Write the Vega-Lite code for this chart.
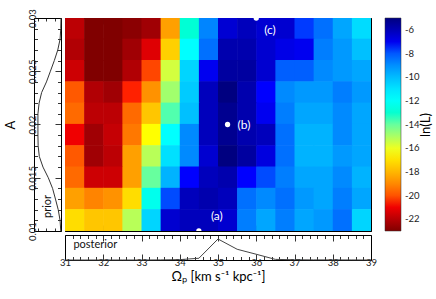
{
"$schema": "https://vega.github.io/schema/vega-lite/v6.json",
"padding": {"left": 3, "top": 8, "right": 0, "bottom": 0},
"background": "white",
"config": {
  "font": "Lato",
  "view": {"stroke": "black", "strokeWidth": 1},
  "axis": {"domain": false, "grid": false, "tickColor": "#000", "tickWidth": 0.8, "labelColor": "#222", "labelFontSize": 9.5, "titleFontWeight": "normal", "titleColor": "#000", "labelFont": "Lato", "titleFont": "Lato"}
},
"bounds": "flush",
"columns": 2,
"spacing": {"row": 4, "column": 4},
"resolve": {"scale": {"x": "independent", "y": "independent"}},
"concat": [
{
  "width": 27, "height": 213,
  "layer": [
    {
      "data": {"values": [
        {"A":0.010,"p":0.01},{"A":0.011,"p":0.04},{"A":0.012,"p":0.12},{"A":0.013,"p":0.24},{"A":0.014,"p":0.365},
        {"A":0.015,"p":0.55},{"A":0.016,"p":0.78},{"A":0.017,"p":0.94},{"A":0.018,"p":0.99},{"A":0.019,"p":1.0},
        {"A":0.020,"p":1.0},{"A":0.021,"p":1.0},{"A":0.022,"p":0.95},{"A":0.023,"p":0.84},{"A":0.024,"p":0.63},
        {"A":0.025,"p":0.46},{"A":0.026,"p":0.29},{"A":0.027,"p":0.14},{"A":0.028,"p":0.04},{"A":0.029,"p":0.01},{"A":0.030,"p":0.0}
      ]},
      "mark": {"type": "line", "color": "#333", "strokeWidth": 1},
      "encoding": {
        "y": {"field": "A", "type": "quantitative", "scale": {"domain": [0.01, 0.03], "nice": false, "zero": false},
              "axis": {"orient": "left", "values": [0.01,0.011,0.012,0.013,0.014,0.015,0.016,0.017,0.018,0.019,0.02,0.021,0.022,0.023,0.024,0.025,0.026,0.027,0.028,0.029,0.03],
                       "tickSize": {"condition": {"test": "abs(datum.value*200-round(datum.value*200))<0.01", "value": -6}, "value": -3.5},
                       "labelExpr": "abs(datum.value*200-round(datum.value*200))<0.01 ? format(datum.value, '.3~f') : ''",
                       "labelAngle": -90, "labelPadding": 3, "title": "A", "titleFontSize": 13, "titlePadding": 10}},
        "x": {"field": "p", "type": "quantitative", "scale": {"domain": [0, 1.17], "reverse": true, "nice": false, "zero": false},
              "axis": {"orient": "bottom", "values": [0.28, 0.64, 1.0], "tickSize": -3, "labels": false, "title": null}},
        "order": {"field": "A", "type": "quantitative"}
      }
    },
    {
      "data": {"values": [{"t": "prior", "A": 0.0123, "p": 0.585}]},
      "mark": {"type": "text", "angle": 270, "fontSize": 11, "align": "center", "baseline": "middle", "color": "#111"},
      "encoding": {
        "y": {"field": "A", "type": "quantitative", "scale": {"domain": [0.01, 0.03], "nice": false, "zero": false},
              "axis": {"orient": "right", "values": [0.01,0.011,0.012,0.013,0.014,0.015,0.016,0.017,0.018,0.019,0.02,0.021,0.022,0.023,0.024,0.025,0.026,0.027,0.028,0.029,0.03],
                       "tickSize": {"condition": {"test": "abs(datum.value*200-round(datum.value*200))<0.01", "value": -6}, "value": -3.5},
                       "labels": false, "title": null}},
        "x": {"field": "p", "type": "quantitative", "scale": {"domain": [0, 1.17], "reverse": true, "nice": false, "zero": false},
              "axis": {"orient": "top", "values": [0.28, 0.64, 1.0], "tickSize": -3, "labels": false, "title": null}},
        "text": {"field": "t"}
      }
    }
  ],
  "resolve": {"axis": {"x": "independent", "y": "independent"}}
},
{
  "width": 306, "height": 213,
  "layer": [
    {
      "data": {"values": [
{"o":31,"p":31.5,"a":0.028,"b":0.03,"v":-21.9},{"o":31.5,"p":32,"a":0.028,"b":0.03,"v":-23},{"o":32,"p":32.5,"a":0.028,"b":0.03,"v":-23},{"o":32.5,"p":33,"a":0.028,"b":0.03,"v":-22.8},{"o":33,"p":33.5,"a":0.028,"b":0.03,"v":-22.4},{"o":33.5,"p":34,"a":0.028,"b":0.03,"v":-18.5},{"o":34,"p":34.5,"a":0.028,"b":0.03,"v":-12.9},{"o":34.5,"p":35,"a":0.028,"b":0.03,"v":-8.8},{"o":35,"p":35.5,"a":0.028,"b":0.03,"v":-6.5},{"o":35.5,"p":36,"a":0.028,"b":0.03,"v":-6.1},{"o":36,"p":36.5,"a":0.028,"b":0.03,"v":-6.5},{"o":36.5,"p":37,"a":0.028,"b":0.03,"v":-6.45},{"o":37,"p":37.5,"a":0.028,"b":0.03,"v":-7.6},{"o":37.5,"p":38,"a":0.028,"b":0.03,"v":-8.4},{"o":38,"p":38.5,"a":0.028,"b":0.03,"v":-9.5},{"o":38.5,"p":39,"a":0.028,"b":0.03,"v":-10.8},
{"o":31,"p":31.5,"a":0.026,"b":0.028,"v":-22.1},{"o":31.5,"p":32,"a":0.026,"b":0.028,"v":-23},{"o":32,"p":32.5,"a":0.026,"b":0.028,"v":-23},{"o":32.5,"p":33,"a":0.026,"b":0.028,"v":-22.4},{"o":33,"p":33.5,"a":0.026,"b":0.028,"v":-21.3},{"o":33.5,"p":34,"a":0.026,"b":0.028,"v":-17.4},{"o":34,"p":34.5,"a":0.026,"b":0.028,"v":-11.75},{"o":34.5,"p":35,"a":0.026,"b":0.028,"v":-8.4},{"o":35,"p":35.5,"a":0.026,"b":0.028,"v":-5.85},{"o":35.5,"p":36,"a":0.026,"b":0.028,"v":-5.85},{"o":36,"p":36.5,"a":0.026,"b":0.028,"v":-6.45},{"o":36.5,"p":37,"a":0.026,"b":0.028,"v":-6.85},{"o":37,"p":37.5,"a":0.026,"b":0.028,"v":-7.0},{"o":37.5,"p":38,"a":0.026,"b":0.028,"v":-8.65},{"o":38,"p":38.5,"a":0.026,"b":0.028,"v":-9.2},{"o":38.5,"p":39,"a":0.026,"b":0.028,"v":-10.1},
{"o":31,"p":31.5,"a":0.024,"b":0.026,"v":-21.6},{"o":31.5,"p":32,"a":0.024,"b":0.026,"v":-23},{"o":32,"p":32.5,"a":0.024,"b":0.026,"v":-23},{"o":32.5,"p":33,"a":0.024,"b":0.026,"v":-22.1},{"o":33,"p":33.5,"a":0.024,"b":0.026,"v":-20.2},{"o":33.5,"p":34,"a":0.024,"b":0.026,"v":-15.6},{"o":34,"p":34.5,"a":0.024,"b":0.026,"v":-10.6},{"o":34.5,"p":35,"a":0.024,"b":0.026,"v":-7.0},{"o":35,"p":35.5,"a":0.024,"b":0.026,"v":-5.6},{"o":35.5,"p":36,"a":0.024,"b":0.026,"v":-5.6},{"o":36,"p":36.5,"a":0.024,"b":0.026,"v":-6.45},{"o":36.5,"p":37,"a":0.024,"b":0.026,"v":-8.1},{"o":37,"p":37.5,"a":0.024,"b":0.026,"v":-8.1},{"o":37.5,"p":38,"a":0.024,"b":0.026,"v":-8.9},{"o":38,"p":38.5,"a":0.024,"b":0.026,"v":-9.2},{"o":38.5,"p":39,"a":0.024,"b":0.026,"v":-9.5},
{"o":31,"p":31.5,"a":0.022,"b":0.024,"v":-19.9},{"o":31.5,"p":32,"a":0.022,"b":0.024,"v":-22.1},{"o":32,"p":32.5,"a":0.022,"b":0.024,"v":-22.4},{"o":32.5,"p":33,"a":0.022,"b":0.024,"v":-20.6},{"o":33,"p":33.5,"a":0.022,"b":0.024,"v":-18.8},{"o":33.5,"p":34,"a":0.022,"b":0.024,"v":-14.85},{"o":34,"p":34.5,"a":0.022,"b":0.024,"v":-10.35},{"o":34.5,"p":35,"a":0.022,"b":0.024,"v":-6.1},{"o":35,"p":35.5,"a":0.022,"b":0.024,"v":-5.0},{"o":35.5,"p":36,"a":0.022,"b":0.024,"v":-5.85},{"o":36,"p":36.5,"a":0.022,"b":0.024,"v":-7.25},{"o":36.5,"p":37,"a":0.022,"b":0.024,"v":-8.9},{"o":37,"p":37.5,"a":0.022,"b":0.024,"v":-9.2},{"o":37.5,"p":38,"a":0.022,"b":0.024,"v":-9.2},{"o":38,"p":38.5,"a":0.022,"b":0.024,"v":-8.65},{"o":38.5,"p":39,"a":0.022,"b":0.024,"v":-9.2},
{"o":31,"p":31.5,"a":0.02,"b":0.022,"v":-19.6},{"o":31.5,"p":32,"a":0.02,"b":0.022,"v":-21.9},{"o":32,"p":32.5,"a":0.02,"b":0.022,"v":-21.9},{"o":32.5,"p":33,"a":0.02,"b":0.022,"v":-19.6},{"o":33,"p":33.5,"a":0.02,"b":0.022,"v":-17.65},{"o":33.5,"p":34,"a":0.02,"b":0.022,"v":-13.7},{"o":34,"p":34.5,"a":0.02,"b":0.022,"v":-10.1},{"o":34.5,"p":35,"a":0.02,"b":0.022,"v":-6.1},{"o":35,"p":35.5,"a":0.02,"b":0.022,"v":-5.3},{"o":35.5,"p":36,"a":0.02,"b":0.022,"v":-5.85},{"o":36,"p":36.5,"a":0.02,"b":0.022,"v":-7.0},{"o":36.5,"p":37,"a":0.02,"b":0.022,"v":-8.65},{"o":37,"p":37.5,"a":0.02,"b":0.022,"v":-9.5},{"o":37.5,"p":38,"a":0.02,"b":0.022,"v":-9.5},{"o":38,"p":38.5,"a":0.02,"b":0.022,"v":-8.9},{"o":38.5,"p":39,"a":0.02,"b":0.022,"v":-9.5},
{"o":31,"p":31.5,"a":0.018,"b":0.02,"v":-21.0},{"o":31.5,"p":32,"a":0.018,"b":0.02,"v":-22.4},{"o":32,"p":32.5,"a":0.018,"b":0.02,"v":-21.75},{"o":32.5,"p":33,"a":0.018,"b":0.02,"v":-19.35},{"o":33,"p":33.5,"a":0.018,"b":0.02,"v":-16.25},{"o":33.5,"p":34,"a":0.018,"b":0.02,"v":-11.75},{"o":34,"p":34.5,"a":0.018,"b":0.02,"v":-8.9},{"o":34.5,"p":35,"a":0.018,"b":0.02,"v":-6.1},{"o":35,"p":35.5,"a":0.018,"b":0.02,"v":-5.3},{"o":35.5,"p":36,"a":0.018,"b":0.02,"v":-5.85},{"o":36,"p":36.5,"a":0.018,"b":0.02,"v":-6.1},{"o":36.5,"p":37,"a":0.018,"b":0.02,"v":-8.4},{"o":37,"p":37.5,"a":0.018,"b":0.02,"v":-9.8},{"o":37.5,"p":38,"a":0.018,"b":0.02,"v":-9.8},{"o":38,"p":38.5,"a":0.018,"b":0.02,"v":-8.9},{"o":38.5,"p":39,"a":0.018,"b":0.02,"v":-9.5},
{"o":31,"p":31.5,"a":0.016,"b":0.018,"v":-19.9},{"o":31.5,"p":32,"a":0.016,"b":0.018,"v":-22.4},{"o":32,"p":32.5,"a":0.016,"b":0.018,"v":-21.9},{"o":32.5,"p":33,"a":0.016,"b":0.018,"v":-18.5},{"o":33,"p":33.5,"a":0.016,"b":0.018,"v":-15.2},{"o":33.5,"p":34,"a":0.016,"b":0.018,"v":-10.9},{"o":34,"p":34.5,"a":0.016,"b":0.018,"v":-8.9},{"o":34.5,"p":35,"a":0.016,"b":0.018,"v":-6.45},{"o":35,"p":35.5,"a":0.016,"b":0.018,"v":-5.0},{"o":35.5,"p":36,"a":0.016,"b":0.018,"v":-5.6},{"o":36,"p":36.5,"a":0.016,"b":0.018,"v":-6.7},{"o":36.5,"p":37,"a":0.016,"b":0.018,"v":-8.4},{"o":37,"p":37.5,"a":0.016,"b":0.018,"v":-9.8},{"o":37.5,"p":38,"a":0.016,"b":0.018,"v":-9.8},{"o":38,"p":38.5,"a":0.016,"b":0.018,"v":-9.2},{"o":38.5,"p":39,"a":0.016,"b":0.018,"v":-9.5},
{"o":31,"p":31.5,"a":0.014,"b":0.016,"v":-19.6},{"o":31.5,"p":32,"a":0.014,"b":0.016,"v":-21.6},{"o":32,"p":32.5,"a":0.014,"b":0.016,"v":-21.6},{"o":32.5,"p":33,"a":0.014,"b":0.016,"v":-18.5},{"o":33,"p":33.5,"a":0.014,"b":0.016,"v":-14.0},{"o":33.5,"p":34,"a":0.014,"b":0.016,"v":-9.8},{"o":34,"p":34.5,"a":0.014,"b":0.016,"v":-7.25},{"o":34.5,"p":35,"a":0.014,"b":0.016,"v":-6.1},{"o":35,"p":35.5,"a":0.014,"b":0.016,"v":-5.85},{"o":35.5,"p":36,"a":0.014,"b":0.016,"v":-7.25},{"o":36,"p":36.5,"a":0.014,"b":0.016,"v":-7.8},{"o":36.5,"p":37,"a":0.014,"b":0.016,"v":-8.65},{"o":37,"p":37.5,"a":0.014,"b":0.016,"v":-9.5},{"o":37.5,"p":38,"a":0.014,"b":0.016,"v":-9.5},{"o":38,"p":38.5,"a":0.014,"b":0.016,"v":-8.9},{"o":38.5,"p":39,"a":0.014,"b":0.016,"v":-9.8},
{"o":31,"p":31.5,"a":0.012,"b":0.014,"v":-18.5},{"o":31.5,"p":32,"a":0.012,"b":0.014,"v":-19.1},{"o":32,"p":32.5,"a":0.012,"b":0.014,"v":-18.8},{"o":32.5,"p":33,"a":0.012,"b":0.014,"v":-17.1},{"o":33,"p":33.5,"a":0.012,"b":0.014,"v":-12.3},{"o":33.5,"p":34,"a":0.012,"b":0.014,"v":-7.8},{"o":34,"p":34.5,"a":0.012,"b":0.014,"v":-6.1},{"o":34.5,"p":35,"a":0.012,"b":0.014,"v":-5.85},{"o":35,"p":35.5,"a":0.012,"b":0.014,"v":-6.1},{"o":35.5,"p":36,"a":0.012,"b":0.014,"v":-8.4},{"o":36,"p":36.5,"a":0.012,"b":0.014,"v":-8.9},{"o":36.5,"p":37,"a":0.012,"b":0.014,"v":-8.4},{"o":37,"p":37.5,"a":0.012,"b":0.014,"v":-9.2},{"o":37.5,"p":38,"a":0.012,"b":0.014,"v":-9.5},{"o":38,"p":38.5,"a":0.012,"b":0.014,"v":-8.65},{"o":38.5,"p":39,"a":0.012,"b":0.014,"v":-9.5},
{"o":31,"p":31.5,"a":0.01,"b":0.012,"v":-17.1},{"o":31.5,"p":32,"a":0.01,"b":0.012,"v":-17.65},{"o":32,"p":32.5,"a":0.01,"b":0.012,"v":-17.65},{"o":32.5,"p":33,"a":0.01,"b":0.012,"v":-15.2},{"o":33,"p":33.5,"a":0.01,"b":0.012,"v":-10.6},{"o":33.5,"p":34,"a":0.01,"b":0.012,"v":-6.45},{"o":34,"p":34.5,"a":0.01,"b":0.012,"v":-6.1},{"o":34.5,"p":35,"a":0.01,"b":0.012,"v":-6.1},{"o":35,"p":35.5,"a":0.01,"b":0.012,"v":-6.45},{"o":35.5,"p":36,"a":0.01,"b":0.012,"v":-8.65},{"o":36,"p":36.5,"a":0.01,"b":0.012,"v":-9.5},{"o":36.5,"p":37,"a":0.01,"b":0.012,"v":-8.65},{"o":37,"p":37.5,"a":0.01,"b":0.012,"v":-9.5},{"o":37.5,"p":38,"a":0.01,"b":0.012,"v":-9.2},{"o":38,"p":38.5,"a":0.01,"b":0.012,"v":-8.4},{"o":38.5,"p":39,"a":0.01,"b":0.012,"v":-10.6}
      ]},
      "mark": {"type": "rect", "x2Offset": 0.6, "y2Offset": -0.6, "clip": true},
      "encoding": {
        "x": {"field": "o", "type": "quantitative", "scale": {"domain": [31, 39], "nice": false, "zero": false},
              "axis": {"orient": "bottom", "values": [31,31.2,31.4,31.6,31.8,32,32.2,32.4,32.6,32.8,33,33.2,33.4,33.6,33.8,34,34.2,34.4,34.6,34.8,35,35.2,35.4,35.6,35.8,36,36.2,36.4,36.6,36.8,37,37.2,37.4,37.6,37.8,38,38.2,38.4,38.6,38.8,39],
                       "tickSize": {"condition": {"test": "abs(datum.value-round(datum.value))<0.01", "value": -6}, "value": -3.5},
                       "labels": false, "title": null}},
        "x2": {"field": "p"},
        "y": {"field": "a", "type": "quantitative", "scale": {"domain": [0.01, 0.03], "nice": false, "zero": false},
              "axis": {"orient": "left", "values": [0.01,0.011,0.012,0.013,0.014,0.015,0.016,0.017,0.018,0.019,0.02,0.021,0.022,0.023,0.024,0.025,0.026,0.027,0.028,0.029,0.03],
                       "tickSize": {"condition": {"test": "abs(datum.value*200-round(datum.value*200))<0.01", "value": -6}, "value": -3.5},
                       "labels": false, "title": null}},
        "y2": {"field": "b"},
        "color": {"field": "v", "type": "quantitative",
                  "scale": {"domain": [-23, -20.75, -16.25, -11.75, -7.25, -5], "range": ["#800000", "#ff0000", "#ffff00", "#00ffff", "#0000ff", "#000080"]},
                  "legend": {"orient": "right", "offset": 7, "direction": "vertical", "gradientLength": 213, "gradientThickness": 16,
                             "values": [-22, -20, -18, -16, -14, -12, -10, -8, -6],
                             "labelExpr": "'-' + abs(datum.value)", "labelFontSize": 9.5, "labelColor": "#222", "labelOffset": 4,
                             "title": "ln(L)", "titleOrient": "right", "titleFontSize": 13, "titleFontWeight": "normal", "titleColor": "#000", "titlePadding": 13, "titleAnchor": "middle",
                             "padding": 0, "gradientStrokeColor": "#333", "gradientStrokeWidth": 0.5,
                             "encode": {"title": {"update": {"angle": {"value": -90}}}}}}
      }
    },
    {
      "data": {"values": [{"k": "(a)", "x": 34.5, "y": 0.01}, {"k": "(b)", "x": 35.25, "y": 0.02}, {"k": "(c)", "x": 36.0, "y": 0.03}]},
      "mark": {"type": "point", "filled": true, "color": "white", "opacity": 1, "size": 28, "clip": true},
      "encoding": {
        "x": {"field": "x", "type": "quantitative", "scale": {"domain": [31, 39], "nice": false, "zero": false},
              "axis": {"orient": "top", "values": [31,31.2,31.4,31.6,31.8,32,32.2,32.4,32.6,32.8,33,33.2,33.4,33.6,33.8,34,34.2,34.4,34.6,34.8,35,35.2,35.4,35.6,35.8,36,36.2,36.4,36.6,36.8,37,37.2,37.4,37.6,37.8,38,38.2,38.4,38.6,38.8,39],
                       "tickSize": {"condition": {"test": "abs(datum.value-round(datum.value))<0.01", "value": -6}, "value": -3.5},
                       "labels": false, "title": null}},
        "y": {"field": "y", "type": "quantitative", "scale": {"domain": [0.01, 0.03], "nice": false, "zero": false},
              "axis": {"orient": "right", "values": [0.01,0.011,0.012,0.013,0.014,0.015,0.016,0.017,0.018,0.019,0.02,0.021,0.022,0.023,0.024,0.025,0.026,0.027,0.028,0.029,0.03],
                       "tickSize": {"condition": {"test": "abs(datum.value*200-round(datum.value*200))<0.01", "value": -6}, "value": -3.5},
                       "labels": false, "title": null}}
      }
    },
    {
      "data": {"values": [{"k": "(a)", "x": 34.5, "y": 0.01}, {"k": "(b)", "x": 35.25, "y": 0.02}, {"k": "(c)", "x": 36.0, "y": 0.03}]},
      "transform": [{"filter": "datum.k == '(a)'"}],
      "mark": {"type": "text", "align": "left", "baseline": "middle", "color": "white", "fontSize": 12, "dx": 12, "dy": -15},
      "encoding": {
        "x": {"field": "x", "type": "quantitative", "axis": null},
        "y": {"field": "y", "type": "quantitative", "axis": null},
        "text": {"field": "k"}
      }
    },
    {
      "data": {"values": [{"k": "(a)", "x": 34.5, "y": 0.01}, {"k": "(b)", "x": 35.25, "y": 0.02}, {"k": "(c)", "x": 36.0, "y": 0.03}]},
      "transform": [{"filter": "datum.k == '(b)'"}],
      "mark": {"type": "text", "align": "left", "baseline": "middle", "color": "white", "fontSize": 12, "dx": 10, "dy": 0},
      "encoding": {
        "x": {"field": "x", "type": "quantitative", "axis": null},
        "y": {"field": "y", "type": "quantitative", "axis": null},
        "text": {"field": "k"}
      }
    },
    {
      "data": {"values": [{"k": "(a)", "x": 34.5, "y": 0.01}, {"k": "(b)", "x": 35.25, "y": 0.02}, {"k": "(c)", "x": 36.0, "y": 0.03}]},
      "transform": [{"filter": "datum.k == '(c)'"}],
      "mark": {"type": "text", "align": "left", "baseline": "middle", "color": "white", "fontSize": 12, "dx": 8, "dy": 12},
      "encoding": {
        "x": {"field": "x", "type": "quantitative", "axis": null},
        "y": {"field": "y", "type": "quantitative", "axis": null},
        "text": {"field": "k"}
      }
    }
  ],
  "resolve": {"axis": {"x": "independent", "y": "independent"}}
},
{
  "width": 27, "height": 25,
  "view": {"stroke": null},
  "data": {"values": [{}]},
  "mark": {"type": "point", "opacity": 0},
  "encoding": {}
},
{
  "width": 306, "height": 25,
  "layer": [
    {
      "data": {"values": [
        {"x":31,"p":0},{"x":31.5,"p":0},{"x":32,"p":0},{"x":32.5,"p":0},{"x":33,"p":0},{"x":33.5,"p":0.004},
        {"x":34,"p":0.015},{"x":34.5,"p":0.07},{"x":35,"p":0.84},{"x":35.5,"p":0.43},{"x":36,"p":0.23},{"x":36.5,"p":0.025},
        {"x":37,"p":0.01},{"x":37.5,"p":0.005},{"x":38,"p":0.004},{"x":38.5,"p":0.002},{"x":39,"p":0}
      ]},
      "mark": {"type": "line", "color": "#444", "strokeWidth": 1},
      "encoding": {
        "x": {"field": "x", "type": "quantitative", "scale": {"domain": [31, 39], "nice": false, "zero": false},
              "axis": {"orient": "bottom", "values": [31,31.2,31.4,31.6,31.8,32,32.2,32.4,32.6,32.8,33,33.2,33.4,33.6,33.8,34,34.2,34.4,34.6,34.8,35,35.2,35.4,35.6,35.8,36,36.2,36.4,36.6,36.8,37,37.2,37.4,37.6,37.8,38,38.2,38.4,38.6,38.8,39],
                       "tickSize": {"condition": {"test": "abs(datum.value-round(datum.value))<0.01", "value": -6}, "value": -3.5},
                       "labelExpr": "abs(datum.value-round(datum.value))<0.01 ? format(datum.value, 'd') : ''",
                       "labelPadding": 3, "labelFlush": false,
                       "title": "Ωₚ [km s⁻¹ kpc⁻¹]", "titleFontSize": 13, "titlePadding": 4}},
        "y": {"field": "p", "type": "quantitative", "scale": {"domain": [0, 1], "nice": false, "zero": false}, "axis": null}
      }
    },
    {
      "data": {"values": [{"t": "posterior", "x": 31.22, "p": 0.6}]},
      "mark": {"type": "text", "align": "left", "baseline": "middle", "fontSize": 11, "color": "#111"},
      "encoding": {
        "x": {"field": "x", "type": "quantitative", "scale": {"domain": [31, 39], "nice": false, "zero": false},
              "axis": {"orient": "top", "values": [31,31.2,31.4,31.6,31.8,32,32.2,32.4,32.6,32.8,33,33.2,33.4,33.6,33.8,34,34.2,34.4,34.6,34.8,35,35.2,35.4,35.6,35.8,36,36.2,36.4,36.6,36.8,37,37.2,37.4,37.6,37.8,38,38.2,38.4,38.6,38.8,39],
                       "tickSize": {"condition": {"test": "abs(datum.value-round(datum.value))<0.01", "value": -6}, "value": -3.5},
                       "labels": false, "title": null}},
        "y": {"field": "p", "type": "quantitative", "scale": {"domain": [0, 1], "nice": false, "zero": false}, "axis": null},
        "text": {"field": "t"}
      }
    }
  ],
  "resolve": {"axis": {"x": "independent"}}
}
]
}
